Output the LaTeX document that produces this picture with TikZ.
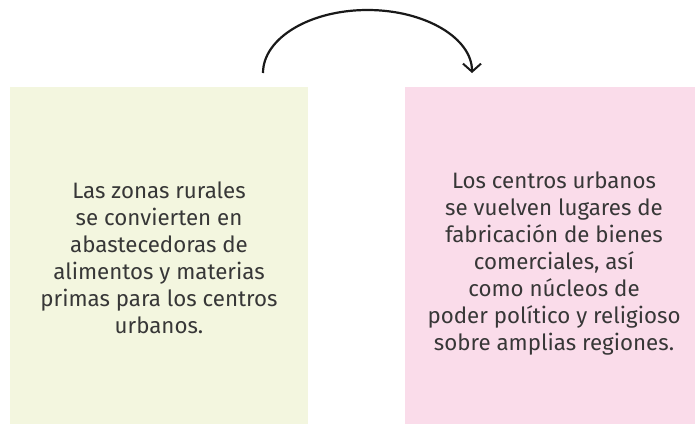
\documentclass[tikz,border=0pt]{standalone}
\usepackage{fontspec}
\setmainfont{Fira Sans}
\usetikzlibrary{arrows.meta}
\definecolor{boxgreen}{RGB}{243,246,223}
\definecolor{boxpink}{RGB}{250,220,234}
\definecolor{txt}{RGB}{55,55,55}
\begin{document}
\begin{tikzpicture}[x=1pt,y=-1pt,
  panel/.style={inner sep=0pt, outer sep=0pt, align=center, text=txt,
    font=\fontsize{22.3}{27}\selectfont},
  flow/.style={line width=2.2pt, black!90, -{Straight Barb[length=8pt,width=18pt,line width=2pt]}}]
\useasboundingbox (0,0) rectangle (695,424);
\fill[boxgreen] (10,87) rectangle (308,424);
\fill[boxpink] (405,87) rectangle (695,424);
\node[panel] (rural) at (159,258) {Las zonas rurales\\se convierten en\\abastecedoras de\\alimentos y materias\\primas para los centros\\urbanos.};
\node[panel] (urban) at (554,264) {Los centros urbanos\\se vuelven lugares de\\fabricación de bienes\\comerciales, así\\como núcleos de\\poder político y religioso\\sobre amplias regiones.};
\coordinate (s) at (263,73);
\coordinate (e) at (472,75);
\draw[flow] (s) arc[start angle=180, end angle=360, x radius=104.5, y radius=63];
\end{tikzpicture}
\end{document}
